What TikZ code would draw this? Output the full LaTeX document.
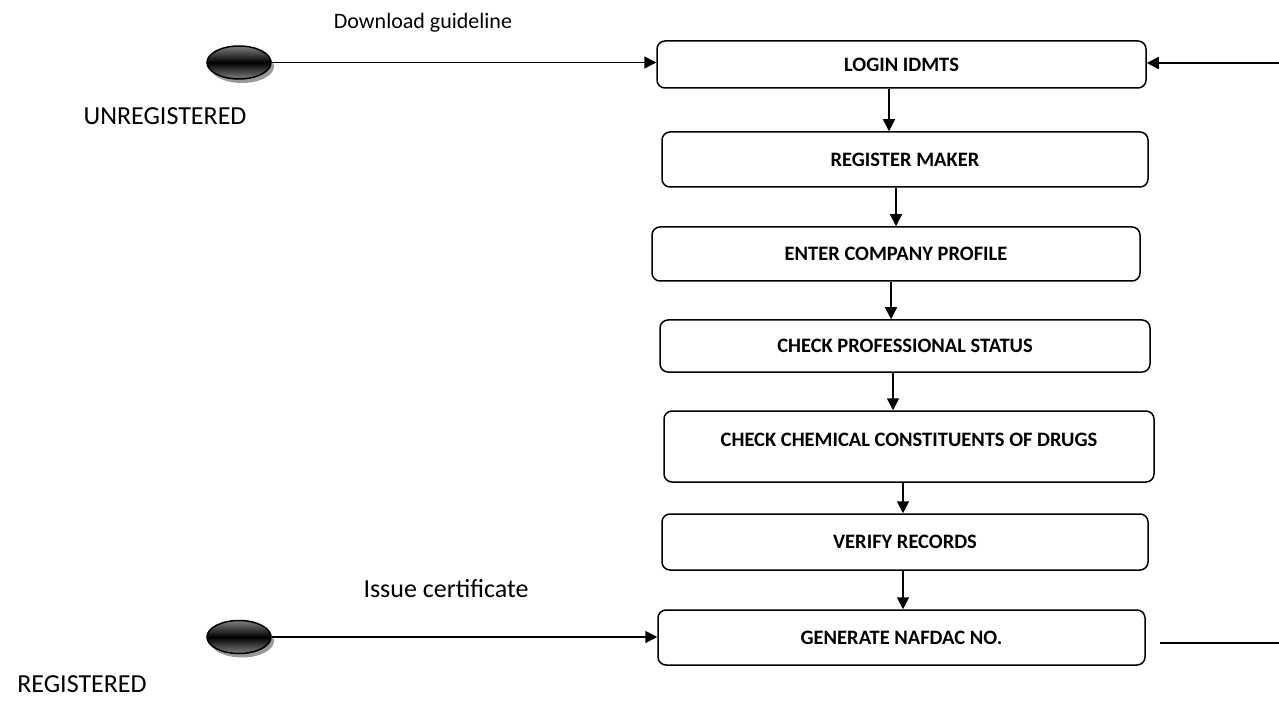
\documentclass[tikz,border=0pt]{standalone}
\usepackage{fontspec}
\setmainfont{Carlito}
\usetikzlibrary{arrows.meta,shapes.geometric,shadows}
\begin{document}
\begin{tikzpicture}[x=1pt,y=-1pt,
  stepbox/.style={draw, line width=1.5pt, rounded corners=8pt, inner sep=0pt,
    font=\bfseries\fontsize{20.5}{24}\selectfont, align=center},
  steptext/.style={inner sep=0pt, font=\bfseries\fontsize{20.5}{24}\selectfont},
  arr/.style={line width=1.5pt, -{Triangle[length=12pt,width=12pt]}},
  flow/.style={line width=1.5pt},
  startdot/.style={ellipse, draw, line width=1.5pt, minimum width=64pt,
    minimum height=33pt, inner sep=0pt,
    top color=black!50, bottom color=black!50, middle color=black,
    drop shadow={shadow xshift=3pt, shadow yshift=-4pt, fill=black!40, opacity=1}},
  caption/.style={inner sep=0pt, font=\fontsize{26}{30}\selectfont},
  smallcaption/.style={inner sep=0pt, font=\fontsize{22}{26}\selectfont},
]
\useasboundingbox[fill=white] (0,0) rectangle (1279,708);

% activity boxes
\node[stepbox, minimum width=489pt, minimum height=47pt] (login)  at (901.5,64.5) {LOGIN IDMTS};
\node[stepbox, minimum width=486pt, minimum height=55pt] (reg)    at (905,159.5)  {REGISTER MAKER};
\node[stepbox, minimum width=488pt, minimum height=54pt] (enter)  at (896,254)    {ENTER COMPANY PROFILE};
\node[stepbox, minimum width=490pt, minimum height=52pt] (prof)   at (905,346)    {CHECK PROFESSIONAL STATUS};
\node[stepbox, minimum width=490pt, minimum height=71pt] (chem)   at (909,446.5)  {};
\node[steptext, anchor=base] (chemtext) at (909,446) {CHECK CHEMICAL CONSTITUENTS OF DRUGS};
\node[stepbox, minimum width=486pt, minimum height=56pt] (verify) at (905,542)    {VERIFY RECORDS};
\node[stepbox, minimum width=487pt, minimum height=55pt] (gen)    at (901.5,637.5) {GENERATE NAFDAC NO.};

% start states
\node[startdot] (unreg) at (239,62.5) {};
\node[startdot] (regd)  at (239,637)  {};

% captions
\node[smallcaption, anchor=base] (dl)       at (423,29)  {Download guideline};
\node[caption, anchor=base]      (unregtxt) at (165,125) {UNREGISTERED};
\node[caption, anchor=base]      (issue)    at (446,597) {Issue certificate};
\node[caption, anchor=base]      (regtxt)   at (82,692)  {REGISTERED};

% free line ends on the right edge
\coordinate (backin) at (1279,63);
\coordinate (outa) at (1160,643);
\coordinate (outb) at (1279,643);

% vertical flow
\draw[arr] ([xshift=-12.5pt]login.south) -- ([xshift=-16pt]reg.north);
\draw[arr] ([xshift=-9pt]reg.south)      -- ([xshift=0pt]enter.north);
\draw[arr] ([xshift=-5pt]enter.south)    -- ([xshift=-14pt]prof.north);
\draw[arr] ([xshift=-12pt]prof.south)    -- ([xshift=-16pt]chem.north);
\draw[arr] ([xshift=-6pt]chem.south)     -- ([xshift=-2pt]verify.north);
\draw[arr] ([xshift=-2pt]verify.south)   -- ([xshift=1.5pt]gen.north);

% horizontal connectors
\draw[arr] (unreg.east) -- (unreg.east -| login.west);
\draw[arr] (backin) -- (backin -| login.east);
\draw[arr] (regd.east) -- (regd.east -| gen.west);
\draw[flow] (outa) -- (outb);
\end{tikzpicture}
\end{document}
